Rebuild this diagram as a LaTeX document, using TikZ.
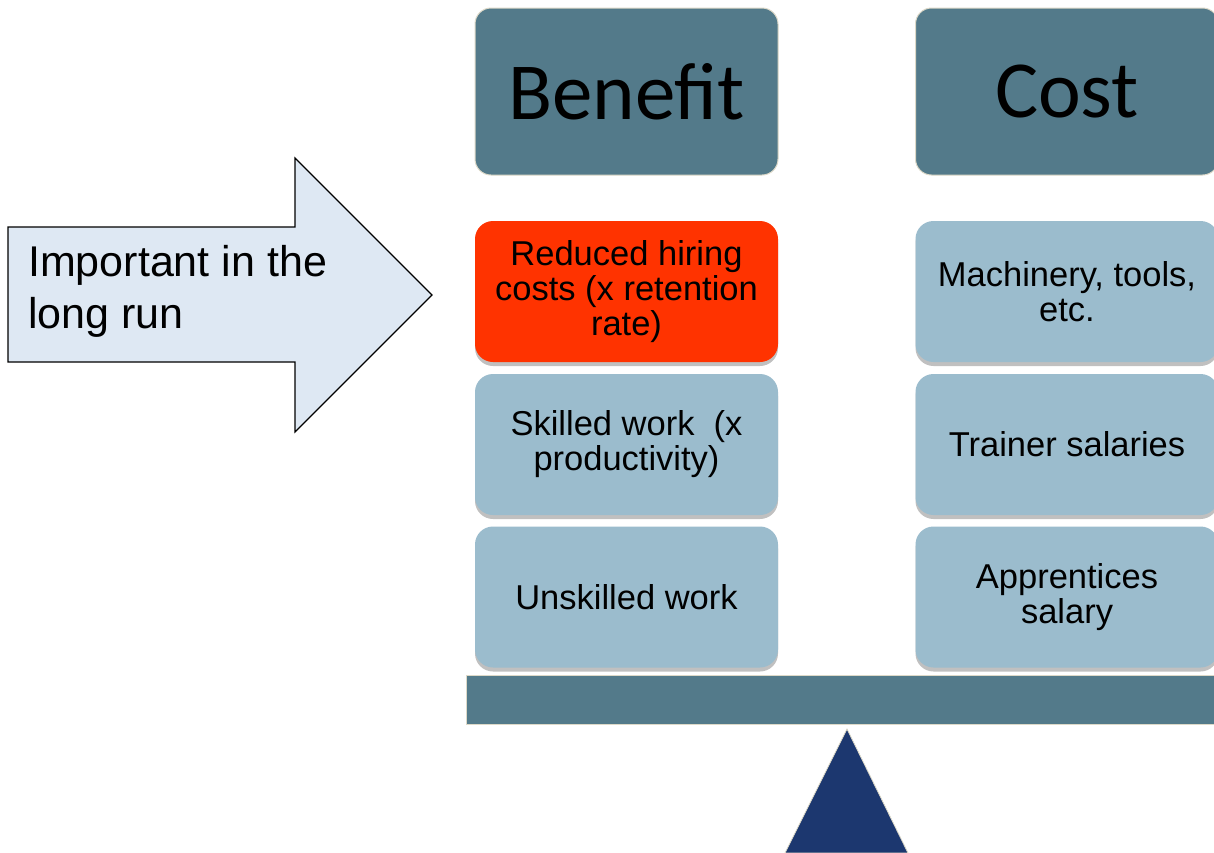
\documentclass[tikz,border=0pt]{standalone}
\usepackage{fontspec}
\setmainfont{Liberation Sans}
\newfontfamily\headfont{Carlito}
\usetikzlibrary{shadows}
\definecolor{slate}{HTML}{537A8A}
\definecolor{paleblue}{HTML}{9BBCCD}
\definecolor{hotred}{HTML}{FF3300}
\definecolor{navy}{HTML}{1C376F}
\definecolor{arrowfill}{HTML}{DEE8F3}
\definecolor{rim}{HTML}{DDD9C8}
\tikzset{
  header/.style={fill=slate, draw=rim, line width=1pt, rounded corners=16pt,
    minimum width=303pt, minimum height=167pt, inner sep=0pt,
    font=\headfont\fontsize{81}{97}\selectfont, text=black},
  item/.style={fill=paleblue, rounded corners=18pt,
    minimum width=303pt, minimum height=141pt, inner sep=0pt, align=center,
    font=\fontsize{34.5}{35}\selectfont, text=black,
    drop shadow={shadow xshift=0pt, shadow yshift=-4pt, opacity=0.35, fill=black!70}},
  hot/.style={item, fill=hotred},
}
\begin{document}
\begin{tikzpicture}[x=1pt,y=-1pt]
\useasboundingbox (0,0) rectangle (1214,852);
\clip (0,0) rectangle (1214,852);
\fill[white] (0,0) rectangle (1214,852);

% column headers
\node[header] (benefit) at (626.5,91.5) {Benefit};
\node[header] (cost) at (1067,91.5) {Cost};

% benefit column
\node[hot]  (hiring)    at (626.5,291.5) {Reduced hiring\\costs (x retention\\rate)};
\node[item] (skilled)   at (626.5,444.5) {Skilled work~ (x\\productivity)};
\node[item] (unskilled) at (626.5,597) {Unskilled work};

% cost column
\node[item] (machinery)   at (1067,291.5) {Machinery, tools,\\etc.};
\node[item] (trainer)     at (1067,444.5) {Trainer salaries};
\node[item] (apprentices) at (1067,597) {Apprentices\\salary};

% balance beam and fulcrum
\node[fill=slate, draw=rim, line width=1.2pt, minimum width=760pt, minimum height=49pt,
  inner sep=0pt, anchor=north west] (beam) at (466,675) {};
\fill[navy, draw=rim, line width=0.8pt] (847,729) -- (908,853) -- (785,853) -- cycle;

% block arrow pointing at the highlighted benefit
\draw[fill=arrowfill, draw=black, line width=1.2pt, line join=miter]
  (8,227) -- (295,227) -- (295,158) -- (432,295) -- (295,432) -- (295,362) -- (8,362) -- cycle;
\node[anchor=west, align=left, inner sep=0pt, font=\fontsize{43}{52}\selectfont]
  (note) at (28,291) {Important in the\\long run};
\end{tikzpicture}
\end{document}
